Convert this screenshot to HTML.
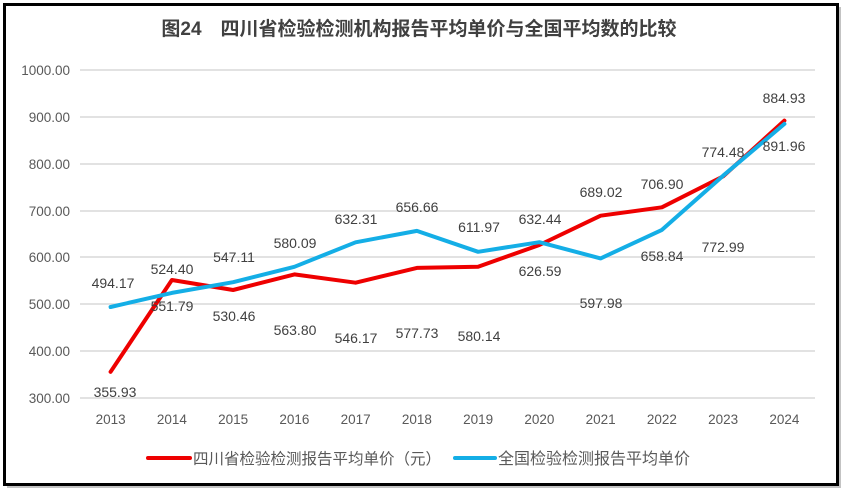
<!DOCTYPE html>
<html><head><meta charset="utf-8"><style>
html,body{margin:0;padding:0;background:#fff;}
svg{display:block;}
text{font-family:"Liberation Sans","Noto Sans CJK SC",sans-serif;}
</style></head><body>
<svg width="849" height="497" viewBox="0 0 849 497" xmlns="http://www.w3.org/2000/svg">
<rect x="0" y="0" width="849" height="497" fill="#fff"/>
<rect x="7" y="7" width="834" height="481" fill="#888" opacity="0.5"/>
<rect x="4.5" y="4.5" width="833" height="480" fill="#fff" stroke="#000" stroke-width="3"/>
<text x="419" y="35" text-anchor="middle" font-size="19" font-weight="bold" fill="#404040">图24　四川省检验检测机构报告平均单价与全国平均数的比较</text>
<g stroke="#d9d9d9" stroke-width="1.5">
<line x1="80" y1="70" x2="815" y2="70"/><line x1="80" y1="117" x2="815" y2="117"/>
<line x1="80" y1="164" x2="815" y2="164"/><line x1="80" y1="211" x2="815" y2="211"/>
<line x1="80" y1="257" x2="815" y2="257"/><line x1="80" y1="304" x2="815" y2="304"/>
<line x1="80" y1="351" x2="815" y2="351"/><line x1="80" y1="398" x2="815" y2="398"/>
</g>
<g font-size="13.5" fill="#595959" text-anchor="end">
<text x="70" y="75">1000.00</text><text x="70" y="122">900.00</text><text x="70" y="169">800.00</text>
<text x="70" y="216">700.00</text><text x="70" y="262">600.00</text><text x="70" y="309">500.00</text>
<text x="70" y="356">400.00</text><text x="70" y="403">300.00</text>
</g>
<g font-size="13.5" fill="#595959" text-anchor="middle">
<text x="110.6" y="424">2013</text><text x="171.9" y="424">2014</text><text x="233.1" y="424">2015</text>
<text x="294.4" y="424">2016</text><text x="355.6" y="424">2017</text><text x="416.9" y="424">2018</text>
<text x="478.1" y="424">2019</text><text x="539.4" y="424">2020</text><text x="600.6" y="424">2021</text>
<text x="661.9" y="424">2022</text><text x="723.1" y="424">2023</text><text x="784.4" y="424">2024</text>
</g>
<polyline fill="none" stroke="#ee0000" stroke-width="4" stroke-linejoin="round" stroke-linecap="round"
points="110.6,371.8 171.9,280 233.1,290 294.4,274.4 355.6,282.7 416.9,267.9 478.1,266.7 539.4,245 600.6,215.7 661.9,207.3 723.1,176.4 784.4,120.6"/>
<polyline fill="none" stroke="#14aee6" stroke-width="4" stroke-linejoin="round" stroke-linecap="round"
points="110.6,307 171.9,292.9 233.1,282.2 294.4,266.8 355.6,242.3 416.9,230.9 478.1,251.8 539.4,242.2 600.6,258.4 661.9,229.9 723.1,175.7 784.4,123.9"/>
<g font-size="14" fill="#404040" text-anchor="middle">
<text x="113" y="288">494.17</text><text x="115" y="397">355.93</text>
<text x="172" y="274">524.40</text><text x="172" y="311">551.79</text>
<text x="234" y="262">547.11</text><text x="234" y="321">530.46</text>
<text x="295" y="248">580.09</text><text x="295" y="335">563.80</text>
<text x="356" y="224">632.31</text><text x="356" y="343">546.17</text>
<text x="417" y="212">656.66</text><text x="417" y="338">577.73</text>
<text x="479" y="232">611.97</text><text x="479" y="341">580.14</text>
<text x="540" y="224">632.44</text><text x="540" y="276">626.59</text>
<text x="601" y="197">689.02</text><text x="601" y="308">597.98</text>
<text x="662" y="189">706.90</text><text x="662" y="261">658.84</text>
<text x="723" y="157">774.48</text><text x="723" y="252">772.99</text>
<text x="784" y="103">884.93</text><text x="784" y="151">891.96</text>
</g>
<line x1="148" y1="458" x2="190" y2="458" stroke="#ee0000" stroke-width="4" stroke-linecap="round"/>
<text x="193" y="464" font-size="15.5" fill="#595959">四川省检验检测报告平均单价（元）</text>
<line x1="455" y1="458" x2="495" y2="458" stroke="#14aee6" stroke-width="4" stroke-linecap="round"/>
<text x="498" y="464" font-size="16" fill="#595959">全国检验检测报告平均单价</text>
</svg>
</body></html>
